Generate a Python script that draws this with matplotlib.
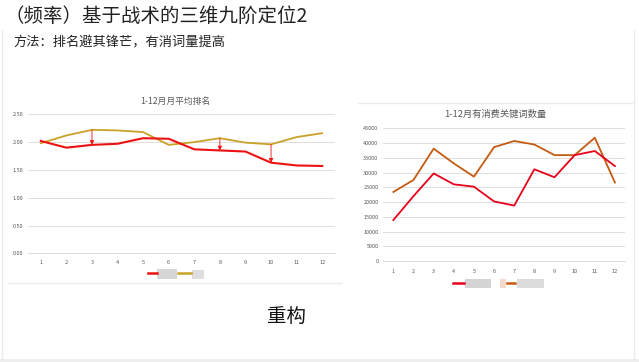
import matplotlib.pyplot as plt
from matplotlib.patches import Rectangle
from matplotlib.lines import Line2D
import numpy as np

plt.rcParams['font.family'] = ['Noto Sans CJK SC', 'DejaVu Sans']

# 数据
meses = list(range(1, 13))
rank_red = [2.02, 1.90, 1.95, 1.97, 2.07, 2.06, 1.87, 1.85, 1.83, 1.63, 1.58, 1.57]
rank_gold = [1.98, 2.12, 2.22, 2.21, 2.18, 1.95, 2.00, 2.07, 1.99, 1.96, 2.09, 2.16]
meses_flecha = [3, 8, 10]

kw_red = [13900, 22000, 29700, 26000, 25200, 20200, 18800, 31100, 28400, 35900, 37300, 32200]
kw_orange = [23400, 27500, 38100, 33100, 28600, 38600, 40700, 39500, 35900, 35900, 41800, 26600]

W, H = 639, 362
fig = plt.figure(figsize=(W / 100, H / 100), dpi=100)


def px(x, y):
    return x / W, 1 - y / H


gris_txt = '#595959'
gris_grid = '#D9D9D9'

# Títulos
fig.text(*px(5, 16), '（频率）基于战术的三维九阶定位2', fontsize=14, va='center', ha='left', color='#222222')
fig.text(*px(13, 43), '方法：排名避其锋芒，有消词量提高', fontsize=9.5, va='center', ha='left', color='#222222')
fig.text(*px(286, 317), '重构', fontsize=14, va='center', ha='center', color='#111111')


def estilo(ax, ymax, paso, fmt):
    ax.set_xlim(0.5, 12.5)
    ax.set_ylim(0, ymax)
    ax.set_yticks(np.arange(0, ymax + paso / 2, paso))
    ax.yaxis.set_major_formatter(plt.FormatStrFormatter(fmt))
    ax.set_xticks(meses)
    ax.grid(axis='y', color=gris_grid, lw=0.6)
    ax.set_axisbelow(True)
    for s in ['top', 'right', 'left']:
        ax.spines[s].set_visible(False)
    ax.spines['bottom'].set_color(gris_grid)
    ax.spines['bottom'].set_linewidth(0.7)
    ax.tick_params(length=0, labelsize=4, colors=gris_txt)


# Gráfico izquierdo: ranking medio
l, t = px(28, 114.3)
r, b = px(335, 253.3)
ax1 = fig.add_axes([l, b, r - l, t - b])
estilo(ax1, 2.5, 0.5, '%.2f')
ax1.tick_params(axis='x', pad=5)
ax1.plot(meses, rank_gold, color='#C9A227', lw=1.3)
ax1.plot(meses, rank_red, color='#EE1111', lw=1.5)
for m in meses_flecha:
    ax1.annotate('', xy=(m, rank_red[m - 1]), xytext=(m, rank_gold[m - 1]),
                 arrowprops=dict(arrowstyle='-|>', color='#EE1111', lw=0.6, mutation_scale=6,
                                 shrinkA=0, shrinkB=0))
fig.text(*px(175, 101.5), '1-12月月平均排名', fontsize=6.3, color=gris_txt, ha='center', va='center')

# Gráfico derecho: palabras clave
l, t = px(383.3, 128.3)
r, b = px(625, 261)
ax2 = fig.add_axes([l, b, r - l, t - b])
estilo(ax2, 45000, 5000, '%d')
ax2.tick_params(axis='x', pad=6)
ax2.plot(meses, kw_orange, color='#C55A11', lw=1.3)
ax2.plot(meses, kw_red, color='#E8001A', lw=1.3)
fig.text(*px(495, 114), '1-12月有消费关键词数量', fontsize=6.7, color=gris_txt, ha='center', va='center')

# Leyendas (etiquetas difuminadas)
def linea(x0, x1, y, c, lw=1.8):
    fig.add_artist(Line2D([x0 / W, x1 / W], [1 - y / H, 1 - y / H], color=c, lw=lw))


def caja(x0, x1, y0, y1, c):
    fig.add_artist(Rectangle(px(x0, y1), (x1 - x0) / W, (y1 - y0) / H, color=c, lw=0))


linea(147.5, 156.5, 273.3, '#EE1111')
caja(156.7, 176.7, 269.3, 279.3, '#D6D6D6')
linea(178, 190.7, 273.3, '#C9A227')
caja(191.7, 204, 270, 279, '#DEDEDE')

linea(453.3, 464, 282.7, '#E8001A')
caja(465, 490.7, 279, 287.7, '#D4D4D4')
caja(500, 506, 279, 287.7, '#F5D9CC')
linea(506.7, 515, 282.7, '#C55A11')
caja(516.7, 544, 279, 287.7, '#DCDCDC')

# Bordes de diapositiva
borde = '#EBEBEB'
linea(8, 341, 283, borde, lw=1)
linea(358, 632, 103.3, borde, lw=1)
fig.add_artist(Line2D([634 / W, 634 / W], [1 - 30 / H, 1 - 359 / H], color=borde, lw=1))
fig.add_artist(Line2D([1.5 / W, 1.5 / W], [1 - 30 / H, 1 - 359 / H], color=borde, lw=1))
caja(0, 639, 359, 362, '#EEEEEE')

fig.savefig('out.png', dpi=100)
